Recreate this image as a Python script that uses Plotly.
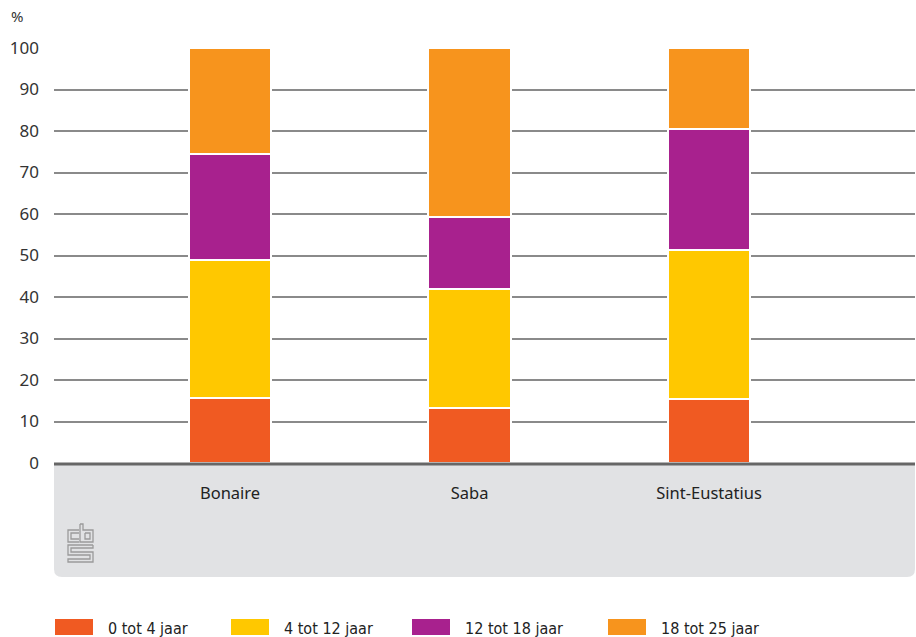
import plotly.graph_objects as go

# ---- data ----
categories = ["Bonaire", "Saba", "Sint-Eustatius"]
series_names = ["0 tot 4 jaar", "4 tot 12 jaar", "12 tot 18 jaar", "18 tot 25 jaar"]
age_0_4 = [15.7, 13.3, 15.5]
age_4_12 = [33.3, 28.7, 35.9]
age_12_18 = [25.4, 17.2, 29.0]
age_18_25 = [25.6, 40.8, 19.6]
series_values = [age_0_4, age_4_12, age_12_18, age_18_25]
colors = ["#f05a22", "#ffc800", "#a8218e", "#f7941d"]
y_ticks = [0, 10, 20, 30, 40, 50, 60, 70, 80, 90, 100]

W, H = 916, 637
L, R, T, B = 54, 1, 48, 174
pw, ph = W - L - R, H - T - B


def px(x):
    return (x - L) / pw


def py(y):
    return (H - B - y) / ph


fig = go.Figure()
for name, vals, col in zip(series_names, series_values, colors):
    fig.add_trace(go.Bar(
        x=categories, y=vals, name=name, width=0.345,
        marker=dict(color=col, line=dict(color="white", width=2)),
        showlegend=False,
    ))

shapes = []
# gray panel below axis with rounded bottom corners
y1 = py(577)
rx, ry = 8 / pw, 8 / ph
shapes.append(dict(
    type="path", xref="paper", yref="paper", layer="below",
    path=f"M 0,0 L 1,0 L 1,{y1+ry} Q 1,{y1} {1-rx},{y1} L {rx},{y1} Q 0,{y1} 0,{y1+ry} Z",
    fillcolor="#e1e2e4", line=dict(width=0),
))
# axis baseline
shapes.append(dict(type="line", xref="paper", yref="paper", x0=0, x1=1, y0=py(464), y1=py(464),
                   line=dict(color="#666666", width=3)))

# cbs logo (decorative)
logo_col = "#9a9a9a"
def lp(points):
    return "M " + " L ".join(f"{px(a)},{py(b)}" for a, b in points)
logo_paths = [
    [(79, 530), (68, 530), (68, 542), (79, 542)],
    [(79, 533), (71, 533), (71, 539), (79, 539)],
    [(80, 524), (80, 542), (93, 542), (93, 530), (83, 530), (83, 524), (80, 524)],
    [(85, 533), (90, 533), (90, 539), (85, 539), (85, 533)],
    [(93, 545), (68, 545), (68, 555), (90, 555), (90, 559), (68, 559), (68, 562), (93, 562),
     (93, 552), (71, 552), (71, 548), (93, 548), (93, 545)],
]
for p in logo_paths:
    shapes.append(dict(type="path", xref="paper", yref="paper", path=lp(p),
                       line=dict(color=logo_col, width=1.3)))

annotations = [dict(text="%", xref="paper", yref="paper", x=px(9), y=py(16), xanchor="left",
                    yanchor="middle", showarrow=False,
                    font=dict(size=15, color="#333333", family="Noto Sans"))]

# custom legend
leg_x = [55, 231, 412, 608]
for x0, name, col in zip(leg_x, series_names, colors):
    shapes.append(dict(type="rect", xref="paper", yref="paper",
                       x0=px(x0), x1=px(x0 + 38), y0=py(635), y1=py(619),
                       fillcolor=col, line=dict(width=0)))
    annotations.append(dict(text=name, xref="paper", yref="paper", x=px(x0 + 51), y=py(628),
                            xanchor="left", yanchor="middle", showarrow=False,
                            font=dict(size=16, color="#222222",
                                      family="DejaVu Sans Condensed, Liberation Sans, sans-serif")))

fig.update_layout(
    width=W, height=H, margin=dict(l=L, r=R, t=T, b=B),
    plot_bgcolor="white", paper_bgcolor="white",
    barmode="stack", bargap=0,
    shapes=shapes, annotations=annotations,
    xaxis=dict(range=[-0.735, 2.86], showgrid=False, zeroline=False, showline=False,
               ticks="", ticklabelstandoff=18,
               tickfont=dict(size=16.5, color="#222222", family="Noto Sans")),
    yaxis=dict(range=[0, 100], tickvals=y_ticks, showgrid=True, gridcolor="#8a8a8a",
               gridwidth=1.5, zeroline=False, showline=False, ticks="",
               ticklabelstandoff=14,
               tickfont=dict(size=17, color="#333333", family="Noto Sans")),
)

fig.write_html("out.html", config={"displayModeBar": False},
               post_script="document.body.style.margin='0';document.body.style.overflow='hidden';")
